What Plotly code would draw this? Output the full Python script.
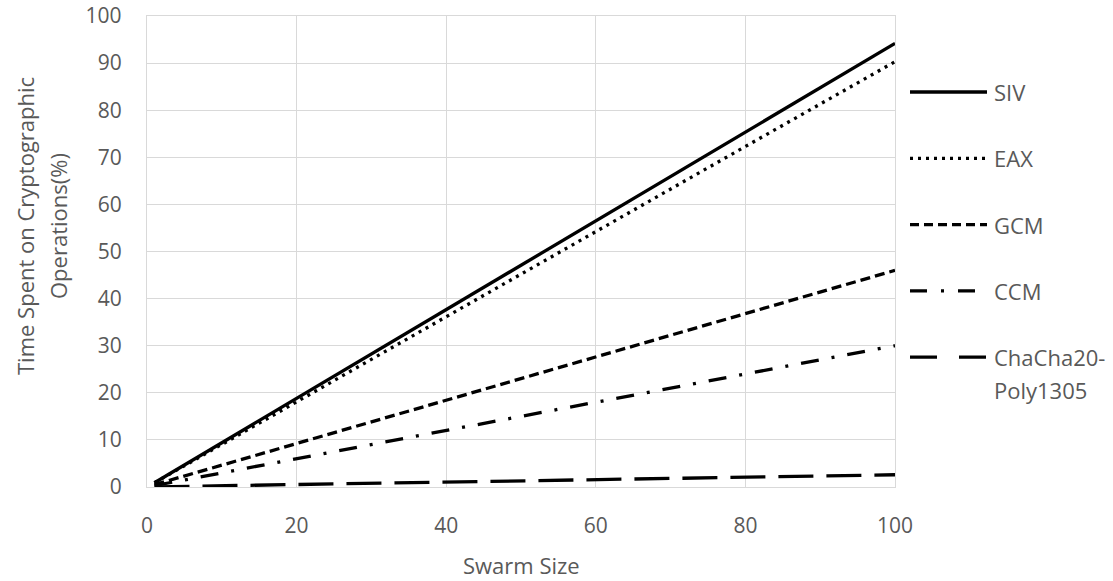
import plotly.graph_objects as go

# ---- data ----
swarm_size = [1, 20, 40, 60, 80, 100]
series_names = ["SIV", "EAX", "GCM", "CCM", "ChaCha20-<br>Poly1305"]
siv = [0.9, 18.8, 37.7, 56.5, 75.4, 94.2]
eax = [0.9, 18.1, 36.2, 54.3, 72.3, 90.3]
gcm = [0.5, 9.2, 18.4, 27.6, 36.8, 46.0]
ccm = [0.3, 6.0, 12.0, 18.0, 24.0, 30.0]
chacha = [0.03, 0.5, 1.0, 1.5, 2.1, 2.6]
x_ticks = [0, 20, 40, 60, 80, 100]
y_ticks = [0, 10, 20, 30, 40, 50, 60, 70, 80, 90, 100]
y_title_lines = ["Time Spent on Cryptographic", "Operations(%)"]
x_title = "Swarm Size"

values = [siv, eax, gcm, ccm, chacha]
dashes = ["solid", "3px,5px", "10px,5px", "18px,13px,3px,13px", "35px,13px"]
legend_dashes = ["solid", "3px,5px", "9px,5px", "17px,14px,3px,14px", "27px,22px"]

FONT = "Open Sans"
GRAY = "#595959"
GRID = "#d9d9d9"
TICK_SIZE = 21
TEXT_SIZE = 22

W, H = 1113, 581
ML, MR, MT, MB = 147, 218, 16, 94
PW = W - ML - MR
PH = H - MT - MB


def px_x(px):
    return (px - ML) / PW


def px_y(py):
    return (H - MB - py) / PH


fig = go.Figure()
for name, vals, dash in zip(series_names, values, dashes):
    fig.add_trace(go.Scatter(
        x=swarm_size, y=vals, mode="lines", name=name.replace("<br>", ""),
        line=dict(color="black", width=3.3, dash=dash),
        showlegend=False,
    ))

# custom legend (long line samples as in the reference)
shapes = []
annotations = []
for i, (name, ld) in enumerate(zip(series_names, legend_dashes)):
    yp = 92 + 66.3 * i
    shapes.append(dict(
        type="line", xref="paper", yref="paper",
        x0=px_x(910), x1=px_x(987),
        y0=px_y(yp), y1=px_y(yp),
        line=dict(color="black", width=3.3, dash=ld),
    ))
    for j, part in enumerate(name.split("<br>")):
        annotations.append(dict(
            xref="paper", yref="paper",
            x=px_x(992), y=px_y(yp + 33 * j),
            xanchor="left", yanchor="middle", align="left",
            text=part, showarrow=False,
            font=dict(family=FONT, size=TEXT_SIZE, color=GRAY),
        ))

# y-axis title (two lines)
for j, (line, cx) in enumerate(zip(y_title_lines, [25, 58])):
    annotations.append(dict(
        xref="paper", yref="paper",
        x=px_x(cx), y=px_y(226),
        xanchor="center", yanchor="middle",
        text=line, textangle=-90, showarrow=False,
        font=dict(family=FONT, size=TEXT_SIZE, color=GRAY),
    ))

# x-axis title
annotations.append(dict(
    xref="paper", yref="paper",
    x=0.5, y=px_y(565),
    xanchor="center", yanchor="middle",
    text=x_title, showarrow=False,
    font=dict(family=FONT, size=TEXT_SIZE, color=GRAY),
))

fig.update_layout(
    width=W, height=H,
    margin=dict(l=ML, r=MR, t=MT, b=MB, autoexpand=False),
    paper_bgcolor="white", plot_bgcolor="white",
    shapes=shapes, annotations=annotations,
    showlegend=False,
    font=dict(family=FONT, size=TICK_SIZE, color=GRAY),
)
fig.update_xaxes(
    range=[0, 100], tickvals=x_ticks, ticktext=[str(v) for v in x_ticks],
    showgrid=True, gridcolor=GRID, gridwidth=1.3,
    showline=True, linecolor=GRID, linewidth=1.3, mirror=True,
    zeroline=False, automargin=False,
    ticks="outside", ticklen=20, tickcolor="rgba(0,0,0,0)",
    tickfont=dict(family=FONT, size=TICK_SIZE, color=GRAY),
)
fig.update_yaxes(
    range=[0, 100], tickvals=y_ticks, ticktext=[str(v) for v in y_ticks],
    showgrid=True, gridcolor=GRID, gridwidth=1.3,
    showline=True, linecolor=GRID, linewidth=1.3, mirror=True,
    zeroline=False, automargin=False,
    ticks="outside", ticklen=20, tickcolor="rgba(0,0,0,0)",
    tickfont=dict(family=FONT, size=TICK_SIZE, color=GRAY),
)

fig.write_html(
    "out.html",
    config={"displayModeBar": False},
    post_script="document.body.style.margin='0px';document.body.style.overflow='hidden';",
)
